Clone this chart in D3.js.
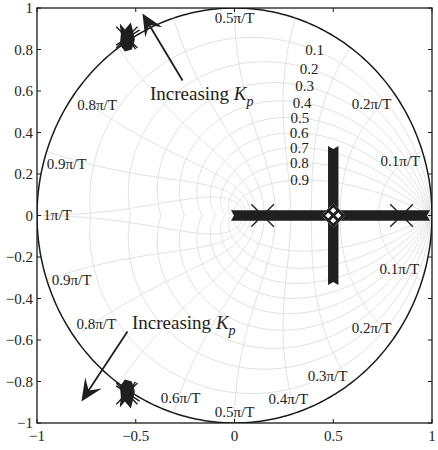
<!DOCTYPE html>
<html><head><meta charset="utf-8">
<script src="https://cdn.jsdelivr.net/npm/d3@7"></script>
<style>body{margin:0;background:#fff}svg{display:block}</style>
</head><body><svg id="c" width="438" height="450"></svg>
<script>
// ---------- data ----------
const xTicks = [-1, -0.5, 0, 0.5, 1];
const yTicks = [-1, -0.8, -0.6, -0.4, -0.2, 0, 0.2, 0.4, 0.6, 0.8, 1];
const zetaValues = [0.1, 0.2, 0.3, 0.4, 0.5, 0.6, 0.7, 0.8, 0.9];
const wnValues = [0.1, 0.2, 0.3, 0.4, 0.5, 0.6, 0.7, 0.8, 0.9, 1.0]; // × π/T
const realPoles = [0.142, 0.846];
const complexPoles = [[-0.545, 0.858], [-0.545, -0.858]];
const realAxisLocus = [-0.018, 0.99];      // re range of branch on real axis
const breakawayRe = 0.5;
const breakawayIm = [0.335, -0.335];       // im range of branch leaving the axis
const wnLabelText = ["0.1π/T","0.2π/T","0.5π/T","0.8π/T","0.9π/T","1π/T",
                     "0.1π/T","0.2π/T","0.3π/T","0.4π/T","0.5π/T","0.6π/T","0.8π/T","0.9π/T"];
const annotationText = ["Increasing ", "K", "p"];

// ---------- layout ----------
const W = 438, H = 450;
const L = 37, R = 432, T = 8, B = 423;
const x = d3.scaleLinear().domain([-1, 1]).range([L, R]);
const y = d3.scaleLinear().domain([-1, 1]).range([B, T]);
const svg = d3.select("#c");
const serif = "'Liberation Serif','Times New Roman',serif";

svg.append("defs").append("clipPath").attr("id", "clip")
  .append("rect").attr("x", L).attr("y", T).attr("width", R - L).attr("height", B - T);
const g = svg.append("g").attr("clip-path", "url(#clip)");
const line = d3.line().x(d => x(d[0])).y(d => y(d[1]));

// zeta curves
zetaValues.forEach(z => {
  const m = z / Math.sqrt(1 - z * z);
  [1, -1].forEach(s => {
    const pts = d3.range(0, 121).map(i => {
      const th = Math.PI * i / 120, r = Math.exp(-m * th);
      return [r * Math.cos(th), s * r * Math.sin(th)];
    });
    g.append("path").attr("d", line(pts)).attr("fill", "none")
      .attr("stroke", "#d9d9d9").attr("stroke-width", 0.8);
  });
});
// wn curves
wnValues.forEach(wv => {
  const w = wv * Math.PI;
  [1, -1].forEach(s => {
    const pts = d3.range(0, 101).map(i => {
      const z = i / 100, r = Math.exp(-z * w), a = w * Math.sqrt(1 - z * z);
      return [r * Math.cos(a), s * r * Math.sin(a)];
    });
    g.append("path").attr("d", line(pts)).attr("fill", "none")
      .attr("stroke", "#d9d9d9").attr("stroke-width", 0.8);
  });
});

// unit circle
const circ = d3.range(0, 361).map(i => [Math.cos(i * Math.PI / 180), Math.sin(i * Math.PI / 180)]);
g.append("path").attr("d", line(circ)).attr("fill", "none").attr("stroke", "#1a1a1a").attr("stroke-width", 1.5);

// zeta labels (placed on their curves)
const zetaLabelTheta = [1.10, 1.081, 1.053, 1.010, 0.957, 0.884, 0.784, 0.659, 0.48];
zetaValues.forEach((z, i) => {
  const m = z / Math.sqrt(1 - z * z), th = zetaLabelTheta[i], r = Math.exp(-m * th);
  svg.append("text").attr("x", x(r * Math.cos(th))).attr("y", y(r * Math.sin(th)))
    .attr("dy", "0.35em").attr("text-anchor", "middle")
    .attr("font-family", serif).attr("font-size", 15).attr("fill", "#222").text(String(z));
});
// wn labels
const wnLabelPos = [[0.84,0.265],[0.694,0.54],[0,0.954],[-0.696,0.535],[-0.85,0.25],[-0.896,0.005],
  [0.835,-0.255],[0.694,-0.54],[0.471,-0.771],[0.273,-0.882],[0,-0.944],[-0.273,-0.877],[-0.70,-0.52],[-0.825,-0.308]];
wnLabelText.forEach((t, i) => {
  svg.append("text").attr("x", x(wnLabelPos[i][0])).attr("y", y(wnLabelPos[i][1]))
    .attr("dy", "0.35em").attr("text-anchor", "middle")
    .attr("font-family", serif).attr("font-size", 15).attr("fill", "#222").text(t);
});

// ---------- root locus ----------
const loc = svg.append("g").attr("clip-path", "url(#clip)");
const h = 5.2, nd = 3;
{
  const x0 = x(realAxisLocus[0]), x1 = x(realAxisLocus[1]), yc = y(0);
  loc.append("path").attr("fill", "#1f1f1f").attr("d",
    `M${x0},${yc-h}L${x1},${yc-h}L${x1-nd},${yc}L${x1},${yc+h}L${x0},${yc+h}L${x0+nd},${yc}Z`);
  const xc = x(breakawayRe), y0 = y(breakawayIm[0]), y1 = y(breakawayIm[1]);
  loc.append("path").attr("fill", "#1f1f1f").attr("d",
    `M${xc-h},${y0}L${xc},${y0+nd}L${xc+h},${y0}L${xc+h},${y1}L${xc},${y1-nd}L${xc-h},${y1}Z`);
  // hatched breakaway point
  const cx = x(breakawayRe), cy = y(0), rr = 12;
  const cp = svg.select("defs").append("clipPath").attr("id", "dia");
  cp.append("path").attr("d", `M${cx},${cy-rr}L${cx+rr},${cy}L${cx},${cy+rr}L${cx-rr},${cy}Z`);
  loc.append("path").attr("fill", "#fff").attr("d", `M${cx},${cy-rr}L${cx+rr},${cy}L${cx},${cy+rr}L${cx-rr},${cy}Z`);
  const hg = loc.append("g").attr("clip-path", "url(#dia)");
  for (let k = -3; k <= 3; k++) {
    const o = k * 10;
    hg.append("line").attr("x1", cx - 20).attr("y1", cy + 20 + o).attr("x2", cx + 20).attr("y2", cy - 20 + o)
      .attr("stroke", "#1f1f1f").attr("stroke-width", 3);
    hg.append("line").attr("x1", cx - 20).attr("y1", cy - 20 + o).attr("x2", cx + 20).attr("y2", cy + 20 + o)
      .attr("stroke", "#1f1f1f").attr("stroke-width", 3);
  }
}
function xMark(px, py, s, rot) {
  const a = rot * Math.PI / 180;
  [45, 135].forEach(d => {
    const b = d * Math.PI / 180 + a;
    loc.append("line").attr("x1", px - s * Math.cos(b)).attr("y1", py - s * Math.sin(b))
      .attr("x2", px + s * Math.cos(b)).attr("y2", py + s * Math.sin(b))
      .attr("stroke", "#1f1f1f").attr("stroke-width", 1.4);
  });
}
realPoles.forEach(p => xMark(x(p), y(0), 16, 0));
complexPoles.forEach(([re, im]) => {
  const px = x(re), py = y(im), s = im > 0 ? 1 : -1;
  xMark(px, py, 15, 0);
  xMark(px + 1, py, 14, s * 12);
  const blob = [[-7,-14],[-2,-8],[4,-15],[6,-7],[8,2],[5,12],[-2,14],[-7,7],[-6,-3]];
  loc.append("path").attr("fill", "#1f1f1f")
    .attr("d", "M" + blob.map(([dx, dy]) => `${px+dx},${py+s*dy}`).join("L") + "Z");
});

// ---------- annotations ----------
function arrow(tail, tip) {
  const tx = x(tail[0]), ty = y(tail[1]), px = x(tip[0]), py = y(tip[1]);
  let ux = px - tx, uy = py - ty; const n = Math.hypot(ux, uy); ux /= n; uy /= n;
  const nx = -uy, ny = ux, Lh = 22, Wh = 10;
  svg.append("line").attr("x1", tx).attr("y1", ty).attr("x2", px - ux * 10).attr("y2", py - uy * 10)
    .attr("stroke", "#1f1f1f").attr("stroke-width", 1.8);
  svg.append("path").attr("fill", "#1f1f1f").attr("d",
    `M${px},${py}L${px-ux*Lh+nx*Wh},${py-uy*Lh+ny*Wh}L${px-ux*Lh*0.6},${py-uy*Lh*0.6}L${px-ux*Lh-nx*Wh},${py-uy*Lh-ny*Wh}Z`);
}
arrow([-0.263, 0.651], [-0.466, 0.973]);
arrow([-0.542, -0.559], [-0.775, -0.896]);
function incText(px, py) {
  const t = svg.append("text").attr("x", x(px)).attr("y", y(py))
    .attr("font-family", serif).attr("font-size", 19).attr("fill", "#222");
  t.append("tspan").text(annotationText[0]);
  t.append("tspan").attr("font-style", "italic").text(annotationText[1]);
  t.append("tspan").attr("font-style", "italic").attr("font-size", 14).attr("dy", 6).text(annotationText[2]);
}
incText(-0.428, 0.557);
incText(-0.519, -0.547);

// ---------- axes ----------
const fmt = v => (v < 0 ? "\u2212" : "") + String(Math.abs(v));
const ax = svg.append("g");
ax.append("rect").attr("x", L).attr("y", T).attr("width", R - L).attr("height", B - T)
  .attr("fill", "none").attr("stroke", "#1a1a1a").attr("stroke-width", 1.3);
xTicks.forEach(v => {
  ax.append("line").attr("x1", x(v)).attr("x2", x(v)).attr("y1", B).attr("y2", B - 4).attr("stroke", "#1a1a1a");
  ax.append("line").attr("x1", x(v)).attr("x2", x(v)).attr("y1", T).attr("y2", T + 4).attr("stroke", "#1a1a1a");
  ax.append("text").attr("x", x(v)).attr("y", B + 18).attr("text-anchor", "middle")
    .attr("font-family", serif).attr("font-size", 15).attr("fill", "#222").text(fmt(v));
});
yTicks.forEach(v => {
  ax.append("line").attr("x1", L).attr("x2", L + 4).attr("y1", y(v)).attr("y2", y(v)).attr("stroke", "#1a1a1a");
  ax.append("line").attr("x1", R).attr("x2", R - 4).attr("y1", y(v)).attr("y2", y(v)).attr("stroke", "#1a1a1a");
  ax.append("text").attr("x", L - 4).attr("y", y(v)).attr("dy", "0.35em").attr("text-anchor", "end")
    .attr("font-family", serif).attr("font-size", 15).attr("fill", "#222").text(fmt(v));
});
</script></body></html>
